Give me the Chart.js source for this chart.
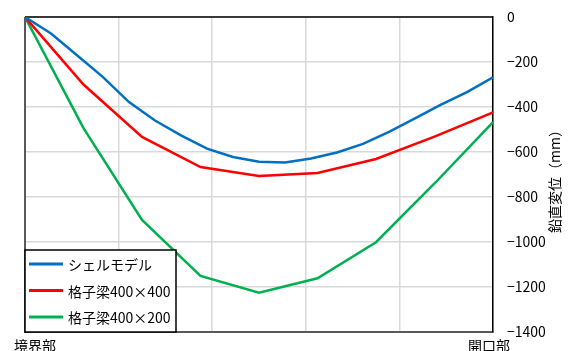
<!DOCTYPE html>
<html>
<head>
<meta charset="utf-8">
<script src="https://cdn.jsdelivr.net/npm/chart.js@4.4.0/dist/chart.umd.min.js"></script>
<style>
  html, body { margin: 0; padding: 0; background: #fff; }
  #wrap { width: 574px; height: 351px; }
</style>
</head>
<body>
<div id="wrap"><canvas id="myChart" width="574" height="351"></canvas></div>
<script>
const ctx = document.getElementById('myChart').getContext('2d');

// 位置 (0 = 境界部, 1 = 開口部)
const shellPos = [0, 1/18, 2/18, 3/18, 4/18, 5/18, 6/18, 7/18, 8/18, 9/18,
    10/18, 11/18, 12/18, 13/18, 14/18, 15/18, 16/18, 17/18, 1]
const beamPos = [0, 0.125, 0.25, 0.375, 0.5, 0.625, 0.75, 0.875, 1]

// 鉛直変位 (mm)
const shell = [0, -73, -170, -267, -378, -460, -526, -585, -622, -643,
    -647, -629, -602, -564, -511, -451, -389, -334, -268]
const beam400x400 = [0, -300, -533, -667, -707, -693, -631, -532, -424]
const beam400x200 = [0, -494, -902, -1151, -1225, -1161, -1001, -740, -467]

const seriesNames = ['シェルモデル', '格子梁400×400', '格子梁400×200']
const xEndLabels = ['境界部', '開口部']
const yTitle = '鉛直変位（mm）'

const font = '"Noto Sans CJK JP", "Noto Sans", sans-serif'

function toPoints(xs, ys) {
    return xs.map((x, i) => ({ x: x, y: ys[i] }))
}

const extras = {
    id: 'extras',
    beforeDatasetsDraw(chart) {
        const c = chart.ctx
        const a = chart.chartArea
        c.save()
        // 上枠
        c.strokeStyle = '#000'
        c.lineWidth = 1.5
        c.beginPath()
        c.moveTo(a.left, a.top)
        c.lineTo(a.right, a.top)
        c.stroke()
        // 左枠
        c.strokeStyle = '#595959'
        c.lineWidth = 2
        c.beginPath()
        c.moveTo(a.left, a.top)
        c.lineTo(a.left, a.bottom)
        c.stroke()
        c.restore()
    },
    afterDatasetsDraw(chart) {
        const c = chart.ctx
        const a = chart.chartArea
        c.save()
        // 凡例
        const bx = a.left, by = 250, bw = 151, bh = a.bottom - 250
        c.fillStyle = '#fff'
        c.fillRect(bx, by, bw, bh)
        c.strokeStyle = '#000'
        c.lineWidth = 1.5
        c.strokeRect(bx, by, bw, bh)
        c.font = '14px ' + font
        c.textBaseline = 'middle'
        c.textAlign = 'left'
        chart.data.datasets.forEach((ds, i) => {
            const ly = 264 + 26.5 * i
            c.strokeStyle = ds.borderColor
            c.lineWidth = 3
            c.beginPath()
            c.moveTo(29, ly)
            c.lineTo(63, ly)
            c.stroke()
            c.fillStyle = '#000'
            c.fillText(ds.label, 68, ly + 1)
        })
        c.restore()
    },
    afterDraw(chart) {
        const c = chart.ctx
        const xs = chart.scales.x
        c.save()
        c.font = '14px ' + font
        c.fillStyle = '#000'
        c.textAlign = 'center'
        c.textBaseline = 'middle'
        c.fillText(xEndLabels[0], xs.getPixelForValue(0) + 10, 346)
        c.fillText(xEndLabels[1], xs.getPixelForValue(1) - 4, 346)
        // 縦軸タイトル
        c.translate(555, 178)
        c.rotate(-Math.PI / 2)
        c.fillText(yTitle, 0, 0)
        c.restore()
    }
}

const render = new Chart(ctx, {
    type: 'line',
    data: {
        datasets: [{
            label: seriesNames[0],
            data: toPoints(shellPos, shell),
            borderColor: '#0070C0',
        }, {
            label: seriesNames[1],
            data: toPoints(beamPos, beam400x400),
            borderColor: '#FF0000',
        }, {
            label: seriesNames[2],
            data: toPoints(beamPos, beam400x200),
            borderColor: '#00B050',
        }]
    },
    options: {
        responsive: false,
        animation: false,
        devicePixelRatio: 1,
        layout: { padding: { left: 25, top: 17, right: 0, bottom: 0 } },
        elements: {
            line: { borderWidth: 2.5, tension: 0, fill: false },
            point: { radius: 0 }
        },
        plugins: {
            legend: { display: false },
            tooltip: { enabled: false }
        },
        scales: {
            x: {
                type: 'linear',
                min: 0,
                max: 1,
                ticks: { stepSize: 0.2, display: false },
                grid: { color: '#d9d9d9', lineWidth: 1.5, drawTicks: false },
                border: { color: '#595959', width: 2 },
                afterFit: s => { s.height = 19 }
            },
            y: {
                position: 'right',
                min: -1400,
                max: 0,
                ticks: {
                    stepSize: 200,
                    padding: 14,
                    color: '#000',
                    font: { size: 14, family: font },
                    callback: v => v === 0 ? '0' : '−' + Math.abs(v)
                },
                grid: { color: '#d9d9d9', lineWidth: 1.5, drawTicks: false },
                border: { color: '#000', width: 1.5 },
                afterFit: s => { s.width = 81; s.paddingTop = 0; s.paddingBottom = 0 }
            }
        }
    },
    plugins: [extras]
});
</script>
</body>
</html>
